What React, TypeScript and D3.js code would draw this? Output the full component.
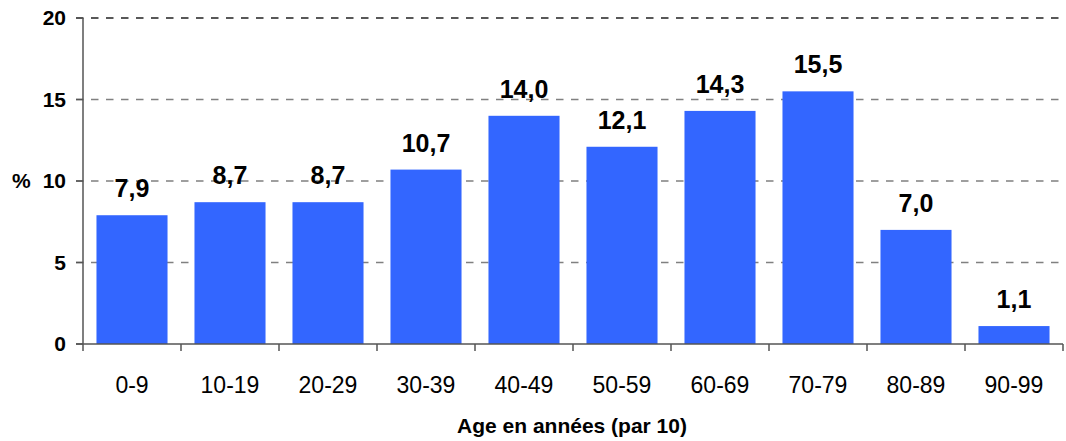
import React from "react";
import * as d3 from "d3";

const categories = ["0-9", "10-19", "20-29", "30-39", "40-49", "50-59", "60-69", "70-79", "80-89", "90-99"];
const values = [7.9, 8.7, 8.7, 10.7, 14.0, 12.1, 14.3, 15.5, 7.0, 1.1];
const yTicks = [0, 5, 10, 15, 20];
const xTitle = "Age en années (par 10)";
const yTitle = "%";

const W = 1066, H = 441;
const left = 83, right = 1063, top = 18, bottom = 344;
const font = "'Liberation Sans', Arial, Helvetica, sans-serif";

export default function App() {
  const x = d3.scaleBand<string>().domain(categories).range([left, right]).paddingInner(0.275).paddingOuter(0.1375);
  const xb = d3.scaleBand<string>().domain(categories).range([left, right]);
  const y = d3.scaleLinear().domain([0, 20]).range([bottom, top]);
  const fmt = (v: number) => v.toFixed(1).replace(".", ",");
  return (
    <svg width={W} height={H} style={{ position: "absolute", left: 0, top: 0, background: "#fff" }} fontFamily={font}>
      {yTicks.filter(t => t > 0).map(t => (
        <line key={"g" + t} x1={76} x2={right} y1={y(t)} y2={y(t)}
          stroke={t === 20 ? "#222" : "#808080"} strokeWidth={1.5} strokeDasharray="7.5,7.5" />
      ))}
      {categories.map((c, i) => (
        <rect key={c} x={x(c)} y={y(values[i])} width={x.bandwidth()} height={bottom - y(values[i])} fill="#3366FF" />
      ))}
      <line x1={left} x2={left} y1={top} y2={bottom} stroke="#555" strokeWidth={1.5} />
      <line x1={76} x2={right} y1={bottom} y2={bottom} stroke="#555" strokeWidth={1.5} />
      {yTicks.map(t => (
        <g key={"t" + t}>
          <line x1={76} x2={left} y1={y(t)} y2={y(t)} stroke="#555" strokeWidth={1.5} />
          <text x={66} y={y(t)} dy="0.35em" textAnchor="end" fontWeight="bold" fontSize={21} fill="#000">{t}</text>
        </g>
      ))}
      {[...categories.map(c => xb(c) as number), right].map((px, i) => (
        <line key={"xt" + i} x1={px} x2={px} y1={bottom} y2={bottom + 7} stroke="#555" strokeWidth={1.5} />
      ))}
      {categories.map((c, i) => (
        <g key={"l" + c}>
          <text x={(x(c) as number) + x.bandwidth() / 2} y={y(values[i]) - 18} textAnchor="middle" fontWeight="bold" fontSize={25} fill="#000">{fmt(values[i])}</text>
          <text x={(x(c) as number) + x.bandwidth() / 2} y={393} textAnchor="middle" fontSize={23} fill="#000">{c}</text>
        </g>
      ))}
      <text x={12} y={y(10)} dy="0.35em" fontWeight="bold" fontSize={21} fill="#000">{yTitle}</text>
      <text x={572} y={433} textAnchor="middle" fontWeight="bold" fontSize={21} fill="#000">{xTitle}</text>
    </svg>
  );
}
